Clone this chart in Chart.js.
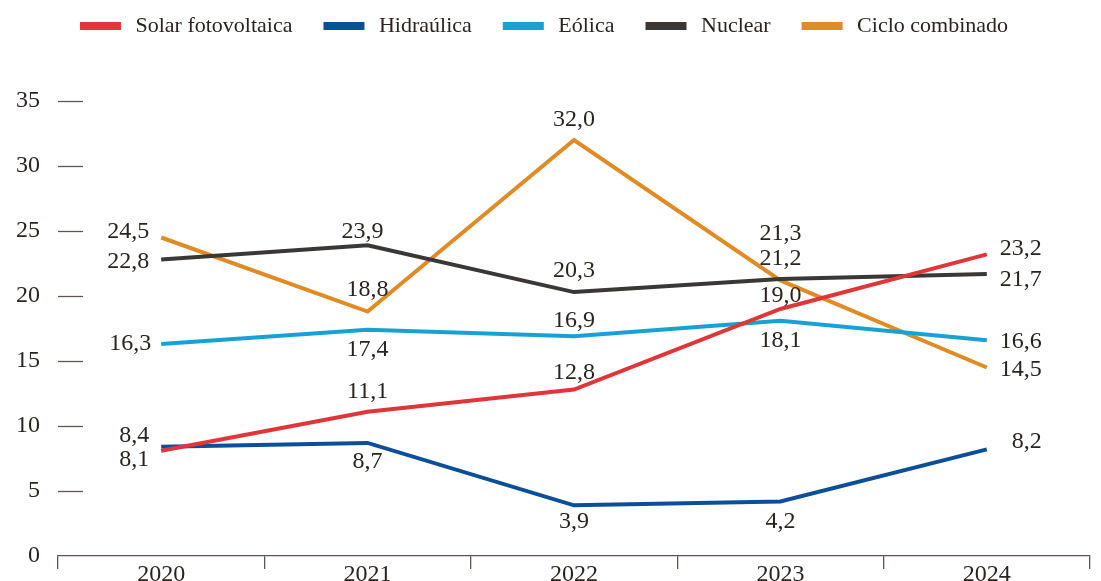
<!DOCTYPE html>
<html>
<head>
<meta charset="utf-8">
<script src="https://cdn.jsdelivr.net/npm/chart.js@4.4.1/dist/chart.umd.min.js"></script>
<style>
    html, body { margin: 0; padding: 0; background: #fff; overflow: hidden; }
    #wrap { width: 1101px; height: 587px; position: relative; }
</style>
</head>
<body>
<div id="wrap"><canvas id="chart"></canvas></div>
<script>
// Data
const years = ['2020', '2021', '2022', '2023', '2024'];
const solar = [8.1, 11.1, 12.8, 19.0, 23.2];
const hidraulica = [8.4, 8.7, 3.9, 4.2, 8.2];
const eolica = [16.3, 17.4, 16.9, 18.1, 16.6];
const nuclear = [22.8, 23.9, 20.3, 21.3, 21.7];
const ciclo = [24.5, 18.8, 32.0, 21.2, 14.5];
const yTicks = [0, 5, 10, 15, 20, 25, 30, 35];

const textColor = '#2a2420';
const axisColor = '#5e5651';
const fontFamily = '"Liberation Serif", "DejaVu Serif", serif';

// where each value label sits relative to its point: [dx, dy, align]
const L = (dx, dy) => [dx - 12, dy, 'right'];
const C = (dy) => [0, dy, 'center'];
const R = (dy) => [55, dy, 'right'];
const labelPos = {
    solar:      [L(0, 9),  C(-20), C(-17), C(-13), R(-6)],
    hidraulica: [L(0, -11), C(19), C(16),  C(20),  R(-8)],
    eolica:     [L(2, 0),  C(20),  C(-16), C(20),  R(2)],
    nuclear:    [L(0, 2),  [-5, -14, 'center'], C(-21), C(-45), R(6)],
    ciclo:      [L(0, -6), C(-22), C(-20), C(-22), R(2)]
};

function fmt(v) {
    return v.toFixed(1).replace('.', ',');
}

function line(label, data, color, key) {
    return {
        label: label,
        data: data,
        borderColor: color,
        backgroundColor: color,
        borderWidth: 4,
        pointRadius: 0,
        tension: 0,
        fill: false,
        labelKey: key
    };
}

// value labels next to points
const valueLabels = {
    id: 'valueLabels',
    afterDatasetsDraw(chart) {
        const ctx = chart.ctx;
        ctx.save();
        ctx.font = '24px ' + fontFamily;
        ctx.fillStyle = textColor;
        ctx.textBaseline = 'middle';
        chart.data.datasets.forEach((ds, i) => {
            const meta = chart.getDatasetMeta(i);
            const pos = labelPos[ds.labelKey];
            meta.data.forEach((pt, j) => {
                const p = pos[j];
                ctx.textAlign = p[2];
                ctx.fillText(fmt(ds.data[j]), pt.x + p[0], pt.y + p[1]);
            });
        });
        ctx.restore();
    }
};

// short dashes next to the y tick labels
const yDashes = {
    id: 'yDashes',
    afterDraw(chart) {
        const ctx = chart.ctx;
        const y = chart.scales.y;
        const left = chart.chartArea.left;
        ctx.save();
        ctx.strokeStyle = axisColor;
        ctx.lineWidth = 1.3;
        y.ticks.forEach(t => {
            if (t.value === 0) return;
            const py = Math.round(y.getPixelForValue(t.value)) + 0.5;
            ctx.beginPath();
            ctx.moveTo(left, py);
            ctx.lineTo(left + 25, py);
            ctx.stroke();
        });
        ctx.restore();
    }
};

// extra room under the legend
const legendGap = {
    id: 'legendGap',
    beforeInit(chart) {
        const origFit = chart.legend.fit;
        chart.legend.fit = function () {
            origFit.bind(chart.legend)();
            this.height += 54;
        };
    }
};

const ctx = document.getElementById('chart').getContext('2d');
new Chart(ctx, {
    type: 'line',
    data: {
        labels: years,
        datasets: [
            line('Solar fotovoltaica', solar, '#e0363a', 'solar'),
            line('Hidraúlica', hidraulica, '#0c4f99', 'hidraulica'),
            line('Eólica', eolica, '#18a2d3', 'eolica'),
            line('Nuclear', nuclear, '#3b3734', 'nuclear'),
            line('Ciclo combinado', ciclo, '#e08b25', 'ciclo')
        ]
    },
    options: {
        responsive: true,
        maintainAspectRatio: false,
        animation: false,
        layout: { padding: { top: -18, right: 11, bottom: 1, left: 0 } },
        plugins: {
            tooltip: { enabled: false },
            legend: {
                position: 'top',
                align: 'center',
                labels: {
                    boxWidth: 37,
                    boxHeight: 4,
                    padding: 33,
                    color: textColor,
                    font: { family: fontFamily, size: 22 },
                    generateLabels(chart) {
                        const items = Chart.defaults.plugins.legend.labels.generateLabels(chart);
                        // a little more space between the swatch and the text
                        items.forEach(it => { it.text = ' ' + it.text; });
                        return items;
                    }
                }
            }
        },
        scales: {
            x: {
                offset: true,
                grid: {
                    offset: true,
                    drawOnChartArea: false,
                    drawTicks: true,
                    tickLength: 13,
                    color: axisColor,
                    lineWidth: 1.3
                },
                border: { display: true, color: axisColor, width: 1.3 },
                ticks: {
                    color: textColor,
                    padding: -9,
                    font: { family: fontFamily, size: 24 }
                },
                afterFit(scale) { scale.height = 30; }
            },
            y: {
                min: 0,
                max: 35,
                afterBuildTicks(scale) {
                    scale.ticks = yTicks.map(v => ({ value: v }));
                },
                grid: { display: false },
                border: { display: false },
                ticks: {
                    color: textColor,
                    padding: 10,
                    font: { family: fontFamily, size: 24 }
                },
                afterFit(scale) { scale.width = 58; }
            }
        }
    },
    plugins: [valueLabels, yDashes, legendGap]
});
</script>
</body>
</html>
